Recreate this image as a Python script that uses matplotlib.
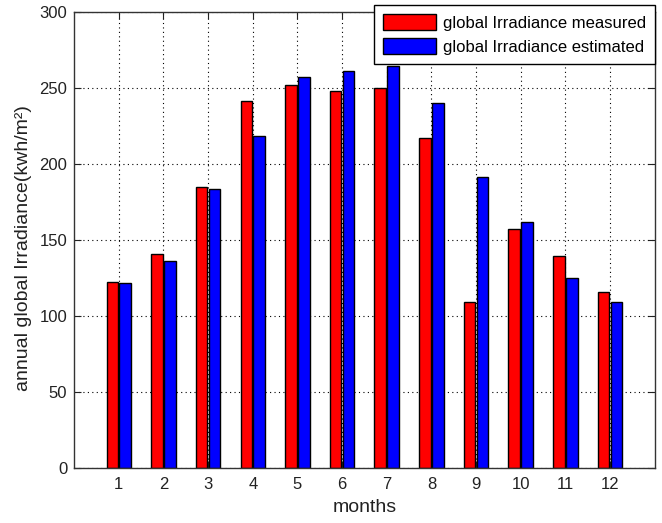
import matplotlib
matplotlib.use("Agg")
import matplotlib.pyplot as plt
import numpy as np

plt.rcParams['font.family'] = ['Liberation Sans', 'DejaVu Sans']

months = [1, 2, 3, 4, 5, 6, 7, 8, 9, 10, 11, 12]
measured = [122.6, 140.6, 185.1, 241.2, 252.0, 248.2, 250.0, 216.9, 109.0, 157.2, 139.7, 116.0]
estimated = [121.5, 136.4, 183.8, 218.4, 257.2, 261.4, 264.3, 239.9, 191.4, 161.6, 124.8, 109.0]

fig = plt.figure(figsize=(6.62, 5.23), dpi=100)
ax = fig.add_axes([0.112, 0.105, 0.877, 0.872])

x = np.array(months)
w = 0.26
ax.bar(x - 0.145, measured, w, color='#ff0000', edgecolor='black', linewidth=1.0,
       label='global Irradiance measured')
ax.bar(x + 0.145, estimated, w, color='#0000ff', edgecolor='black', linewidth=1.0,
       label='global Irradiance estimated')

ax.set_xlim(0, 13)
ax.set_ylim(0, 300)
ax.set_xticks(months)
ax.set_yticks(range(0, 301, 50))
ax.set_axisbelow(True)
ax.grid(True, linestyle=(0, (1, 3)), color='black', linewidth=0.8)
ax.tick_params(direction='in', top=True, right=True, labelsize=12, colors='#222222', length=5)
ax.tick_params(axis='x', pad=6.5)
ax.tick_params(axis='y', pad=5)
for s in ax.spines.values():
    s.set_linewidth(1.0)
    s.set_color('#333333')

ax.set_xlabel('months', fontsize=14, color='#222222', labelpad=5)
ax.set_ylabel('annual global Irradiance(kwh/m²)', fontsize=14, color='#222222')
ax.yaxis.set_label_coords(-0.072, 0.482)

leg = ax.legend(loc='upper right', bbox_to_anchor=(655 / 662, 1 - 5 / 523),
                bbox_transform=fig.transFigure, fontsize=12, frameon=True, fancybox=False,
                edgecolor='black', framealpha=1, handlelength=3.2, handleheight=1.1,
                borderaxespad=0, labelspacing=0.45, handletextpad=0.4, borderpad=0.55)
leg.get_frame().set_linewidth(1.0)

fig.savefig('out.png', dpi=100)
